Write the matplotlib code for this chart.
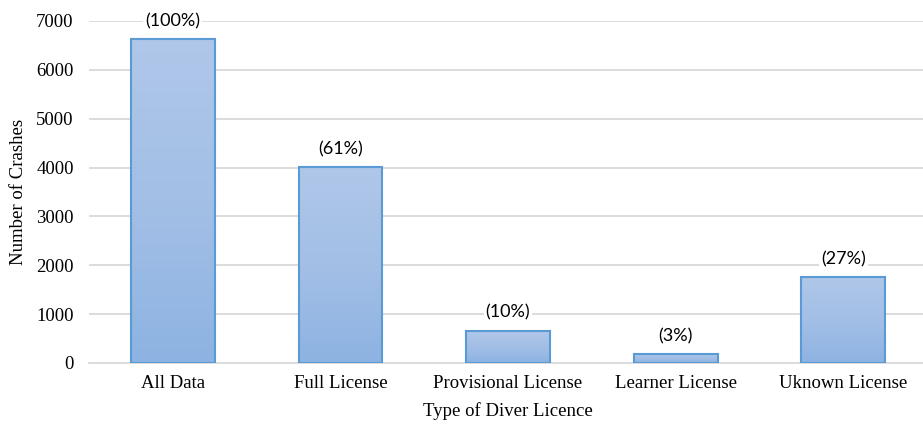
import matplotlib
matplotlib.use("Agg")
import matplotlib.pyplot as plt
import numpy as np
from matplotlib.colors import LinearSegmentedColormap

categories = ["All Data", "Full License", "Provisional License", "Learner License", "Uknown License"]
crashes = [6630, 4010, 660, 185, 1760]
pct_labels = ["(100%)", "(61%)", "(10%)", "(3%)", "(27%)"]

plt.rcParams['font.family'] = ['Liberation Serif']

fig = plt.figure(figsize=(9.23, 4.25), dpi=100)
ax = fig.add_axes([89 / 923, 0.146, 838 / 923, 0.8047])

cmap = LinearSegmentedColormap.from_list("bar", ["#8DB3E2", "#A3BFE6", "#AFC7E9"])
grad = np.linspace(0, 1, 256).reshape(-1, 1)

width = 0.5
x = np.arange(len(categories))
bars = ax.bar(x, crashes, width=width, facecolor="none", edgecolor="#5B9BD5",
              linewidth=1.5, zorder=3)
for b in bars:
    bx, by = b.get_x(), b.get_y()
    bw, bh = b.get_width(), b.get_height()
    im = ax.imshow(grad, cmap=cmap, aspect="auto", origin="lower",
                   extent=[bx, bx + bw, by, by + bh], zorder=2)
    im.set_clip_path(b)

for xi, v, lab in zip(x, crashes, pct_labels):
    ax.text(xi, v + 200, lab, ha="center", va="bottom", fontsize=13,
            family=["Lato", "DejaVu Sans"],
            bbox=dict(facecolor="white", edgecolor="none", pad=1.5), zorder=4)

ax.set_xlim(-0.5, len(categories) - 0.5)
ax.set_ylim(0, 7000)
ax.set_yticks(np.arange(0, 7001, 1000))
ax.set_xticks(x)
ax.set_xticklabels(categories)
ax.tick_params(axis="both", length=0, labelsize=13.5, colors="black")
ax.tick_params(axis="y", pad=11)
ax.tick_params(axis="x", pad=9)
ax.yaxis.grid(True, color="#D9D9D9", linewidth=1.3, zorder=0)
ax.set_axisbelow(True)
for s in ["top", "right", "left"]:
    ax.spines[s].set_visible(False)
ax.spines["bottom"].set_color("#D9D9D9")
ax.spines["bottom"].set_linewidth(1.3)

ax.set_xlabel("Type of Diver Licence", fontsize=13.5, labelpad=7)
ax.set_ylabel("Number of Crashes", fontsize=13.5, labelpad=7)

fig.savefig("out.png", dpi=100)
